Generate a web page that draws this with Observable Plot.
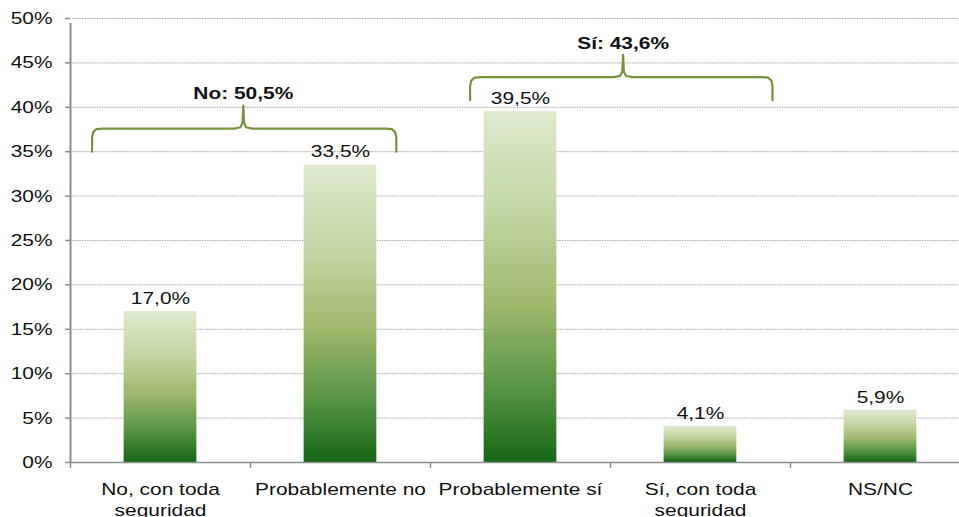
<!DOCTYPE html>
<html><head><meta charset="utf-8">
<script src="https://cdn.jsdelivr.net/npm/d3@7"></script>
<script src="https://cdn.jsdelivr.net/npm/@observablehq/plot@0.6"></script>
<style>body{margin:0;background:#fff;font-family:"Liberation Sans",Arial,sans-serif}</style>
</head><body><div id="chart"></div>
<script>
const categories = ["No, con toda seguridad", "Probablemente no", "Probablemente sí", "Sí, con toda seguridad", "NS/NC"];
const tickLabels = ["No, con toda\nseguridad", "Probablemente no", "Probablemente sí", "Sí, con toda\nseguridad", "NS/NC"];
const values = [17.0, 33.5, 39.5, 4.1, 5.9];
const yTicks = [0, 5, 10, 15, 20, 25, 30, 35, 40, 45, 50];
const groupLabels = ["No: 50,5%", "Sí: 43,6%"];
const groupFrom = [-0.38, 1.72];   // bracket start (category units)
const groupTo = [1.31, 3.40];      // bracket end
const groupMid = [0.46, 2.57];     // bracket cusp
const groupBase = [35.0, 40.8];    // bracket ends (%)
const groupBar = [37.6, 43.4];     // bracket horizontal (%)
const groupPeak = [40.2, 45.9];    // cusp top (%)

const fmt = v => v.toFixed(1).replace(".", ",") + "%";
const bars = categories.map((c, i) => ({c, i, v: values[i], x1: i - 0.202, x2: i + 0.202}));

const brackets = [];
groupLabels.forEach((g, k) => {
  const a = groupFrom[k], b = groupTo[k], m = groupMid[k];
  const base = groupBase[k], bar = groupBar[k], peak = groupPeak[k];
  const pts = [
    [a, base], [a, bar - 1.0], [a + 0.006, bar - 0.4], [a + 0.025, bar - 0.05], [a + 0.06, bar],
    [m - 0.05, bar], [m - 0.015, bar + 0.15], [m - 0.004, bar + 0.7], [m, peak],
    [m + 0.004, bar + 0.7], [m + 0.015, bar + 0.15], [m + 0.05, bar],
    [b - 0.06, bar], [b - 0.025, bar - 0.05], [b - 0.006, bar - 0.4], [b, bar - 1.0], [b, base]
  ];
  pts.forEach(([x, y]) => brackets.push({g, x, y}));
});
const groups = groupLabels.map((g, k) => ({g, x: groupMid[k], y: groupPeak[k] + 1.3}));
const xEdges = [-0.5, 0.5, 1.5, 2.5, 3.5];

const chart = Plot.plot({
  width: 959, height: 517,
  marginLeft: 70, marginRight: 0, marginTop: 18, marginBottom: 55,
  style: {fontFamily: "'Liberation Sans', Arial, sans-serif", background: "#fff"},
  x: {type: "linear", domain: [-0.5, 4.439], axis: null},
  y: {type: "linear", domain: [0, 50], axis: null},
  marks: [
    Plot.ruleY(yTicks.filter(t => t > 0), {x1: -0.49, x2: 4.439, stroke: "#a6a6a6", strokeWidth: 1, strokeDasharray: "1.5,1"}),
    Plot.rect(bars, {x1: "x1", x2: "x2", y1: 0, y2: "v", fill: "url(#barGrad)"}),
    Plot.text(bars, {x: "i", y: "v", text: d => fmt(d.v), dy: -13, fontSize: 17, fill: "#111"}),
    Plot.ruleY([0], {x1: -0.5, x2: 4.439, stroke: "#8c8c8c", strokeWidth: 1.5}),
    Plot.ruleX(xEdges, {y1: 0, y2: 0, insetBottom: -6, stroke: "#8c8c8c", strokeWidth: 1.5}),
    Plot.ruleX([-0.5], {y1: 0, y2: 50, insetBottom: -5, stroke: "#8c8c8c", strokeWidth: 2}),
    Plot.ruleY(yTicks, {x1: -0.5, x2: -0.5, insetLeft: -5, stroke: "#8c8c8c", strokeWidth: 1.5}),
    Plot.axisY({ticks: yTicks, tickSize: 0, tickPadding: 18, tickFormat: d => d + "%", fontSize: 17, color: "#111"}),
    Plot.axisX({ticks: [0, 1, 2, 3, 4], tickSize: 0, tickPadding: 18, tickFormat: i => tickLabels[i], fontSize: 17, lineHeight: 1.22, color: "#111"}),
    Plot.line(brackets, {x: "x", y: "y", z: "g", stroke: "#77933c", strokeWidth: 2.2}),
    Plot.text(groups, {x: "x", y: "y", text: "g", fontSize: 17, fontWeight: "bold", fill: "#111"})
  ]
});
const defs = d3.create("svg:defs");
const grad = defs.append("linearGradient").attr("id", "barGrad").attr("x1", 0).attr("y1", 0).attr("x2", 0).attr("y2", 1);
[[0, "#dfeacf"], [0.3, "#c2d4a2"], [0.55, "#9fb86c"], [0.78, "#5a9646"], [1, "#156715"]].forEach(([o, c]) =>
  grad.append("stop").attr("offset", o).attr("stop-color", c));
chart.insertBefore(defs.node(), chart.firstChild);
document.getElementById("chart").appendChild(chart);
// the reference uses a horizontally widened typeface: stretch each label around its own anchor
chart.querySelectorAll("text").forEach(t => {
  const x = parseFloat(t.getAttribute("x") || 0);
  const tr = t.getAttribute("transform") || "";
  t.setAttribute("transform", `${tr} translate(${x},0) scale(1.23,1) translate(${-x},0)`.trim());
});
</script></body></html>
